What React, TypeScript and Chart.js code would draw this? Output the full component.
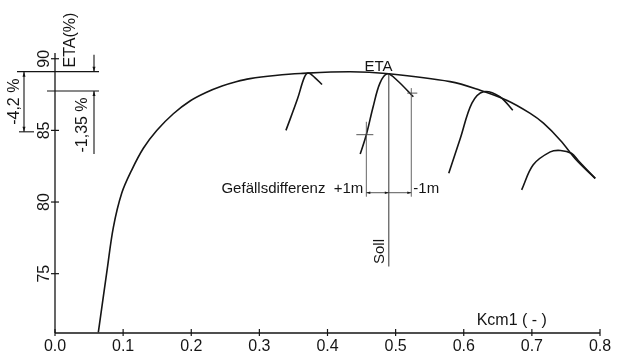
import React, { useEffect, useRef } from "react";
import { Chart, registerables } from "chart.js";
Chart.register(...registerables);

// Envelope (ETA over Kcm1)
const envelopeX = [0.0636, 0.0768, 0.0856, 0.0979, 0.1126, 0.1297, 0.1493, 0.1737, 0.1982, 0.2217, 0.2452, 0.2658, 0.2863, 0.3231, 0.3598, 0.4332, 0.49, 0.58, 0.624, 0.663, 0.697, 0.717, 0.742, 0.766, 0.793];
const envelopeY = [70.9, 75.37, 78.22, 80.61, 82.23, 83.75, 84.99, 86.16, 87.05, 87.64, 88.09, 88.39, 88.61, 88.83, 88.97, 89.09, 88.95, 88.4, 87.8, 87.1, 86.2, 85.5, 84.3, 82.9, 81.65];
// partial curves
const curveAX = [0.339, 0.356, 0.366, 0.372, 0.381, 0.392];
const curveAY = [85.0, 87.2, 88.7, 89.0, 88.7, 88.2];
const curveBX = [0.448, 0.457, 0.467, 0.477, 0.488, 0.502, 0.526];
const curveBY = [83.35, 84.7, 86.65, 88.3, 88.95, 88.5, 87.35];
const curveCX = [0.578, 0.595, 0.612, 0.629, 0.653, 0.672];
const curveCY = [82.0, 84.45, 86.9, 87.7, 87.35, 86.4];
const curveDX = [0.685, 0.702, 0.727, 0.742, 0.758, 0.768, 0.793];
const curveDY = [80.85, 82.6, 83.5, 83.6, 83.4, 82.9, 81.65];

const xTicks = [0, 0.1, 0.2, 0.3, 0.4, 0.5, 0.6, 0.7, 0.8];
const xTickLabels = ["0.0", "0.1", "0.2", "0.3", "0.4", "0.5", "0.6", "0.7", "0.8"];
const yTicks = [75, 80, 85, 90];
const yTickLabels = ["75", "80", "85", "90"];
const xMin = 0, xMax = 0.8, yMin = 70.86, yMax = 90.4;

// annotation values
const etaMax = 89.1;
const eta135 = 87.75;
const eta42 = 84.9;
const sollX = 0.49;
const sollTop = 88.95;
const sollBottom = 75.5;
const plusX = 0.457;
const minusX = 0.523;
const plusMarkY = 84.7;
const minusMarkY = 87.6;
const plusTop = 85.6;
const minusTop = 87.95;
const dimY = 80.65;

const FONT = '"Liberation Sans", Arial, sans-serif';
const INK = "#151515";

function pts(xs: number[], ys: number[]) {
  return xs.map((x, i) => ({ x, y: ys[i] }));
}

const drawPlugin = {
  id: "drawing",
  afterDraw(chart: any) {
    const ctx = chart.ctx as CanvasRenderingContext2D;
    const xs = (v: number) => chart.scales.x.getPixelForValue(v);
    const ys = (v: number) => chart.scales.y.getPixelForValue(v);
    const ax = xs(0);
    const by = ys(yMin);
    ctx.save();
    const line = (x1: number, y1: number, x2: number, y2: number, w = 1.2, c = INK) => {
      ctx.strokeStyle = c;
      ctx.lineWidth = w;
      ctx.beginPath();
      ctx.moveTo(x1, y1);
      ctx.lineTo(x2, y2);
      ctx.stroke();
    };
    const arrow = (x: number, y: number, dx: number, dy: number, size = 5) => {
      const px = -dy, py = dx;
      ctx.fillStyle = INK;
      ctx.beginPath();
      ctx.moveTo(x, y);
      ctx.lineTo(x - dx * size + px * size * 0.3, y - dy * size + py * size * 0.3);
      ctx.lineTo(x - dx * size - px * size * 0.3, y - dy * size - py * size * 0.3);
      ctx.closePath();
      ctx.fill();
    };
    const vtext = (t: string, x: number, y: number) => {
      ctx.save();
      ctx.translate(x, y);
      ctx.rotate(-Math.PI / 2);
      ctx.textAlign = "center";
      ctx.textBaseline = "middle";
      ctx.fillText(t, 0, 0);
      ctx.restore();
    };
    ctx.font = `16px ${FONT}`;

    // axes
    line(ax, by, xs(xMax), by, 1.3);
    line(ax, by, ax, ys(yMax), 1.3);
    ctx.textAlign = "center";
    ctx.textBaseline = "middle";
    xTicks.forEach((t, i) => {
      const x = xs(t);
      line(x, by - 4, x, by + 3, 1.2);
      ctx.fillStyle = INK;
      ctx.fillText(xTickLabels[i], x, by + 14);
    });
    yTicks.forEach((t, i) => {
      const y = ys(t);
      line(ax - 4, y, ax + 4, y, 1.2);
      ctx.fillStyle = INK;
      vtext(yTickLabels[i], ax - 10, y);
    });
    ctx.textAlign = "left";
    ctx.fillStyle = INK;
    ctx.fillText("Kcm1 ( - )", xs(0.619), by - 12);
    vtext("ETA(%)", ax + 16, ys(yMax) - 13);

    // left dimension lines
    const yA = ys(etaMax), yB = ys(eta135), yC = ys(eta42);
    line(ax - 38, yA, ax + 44, yA, 1.1);
    line(ax - 8, yB, ax + 44, yB, 1.1);
    line(ax - 36, yC, ax - 21, yC, 1.1);
    line(ax - 31, yA, ax - 31, yC, 1.1);
    arrow(ax - 31, yA, 0, -1);
    arrow(ax - 31, yC, 0, 1);
    line(ax + 39, yA - 17, ax + 39, yA, 1.1);
    arrow(ax + 39, yA, 0, 1);
    line(ax + 39, yB, ax + 39, yB + 63, 1.1);
    arrow(ax + 39, yB, 0, -1);
    ctx.fillStyle = INK;
    vtext("-4,2 %", ax - 40, (yA + yC) / 2);
    vtext("-1,35 %", ax + 28, yB + 34);

    // Soll line and Gefällsdifferenz
    const sx = xs(sollX), px = xs(plusX), mx = xs(minusX), dy = ys(dimY);
    line(sx, ys(sollTop), sx, ys(sollBottom), 1.0, "#333");
    line(px, ys(plusTop), px, dy + 4, 0.9, "#555");
    line(mx, ys(minusTop), mx, dy + 4, 0.9, "#555");
    line(px - 10, ys(plusMarkY), px + 7, ys(plusMarkY), 0.9, "#444");
    line(mx - 4, ys(minusMarkY), mx + 6, ys(minusMarkY), 0.9, "#444");
    line(px, dy, mx, dy, 0.9, "#444");
    arrow(px, dy, -1, 0, 4);
    arrow(sx, dy, 1, 0, 4);
    arrow(mx, dy, 1, 0, 4);
    ctx.fillStyle = INK;
    ctx.font = `15px ${FONT}`;
    ctx.textAlign = "right";
    ctx.fillText("Gefällsdifferenz  +1m", px - 3, dy - 4);
    ctx.textAlign = "left";
    ctx.fillText("-1m", mx + 2, dy - 4);
    vtext("Soll", sx - 9, ys(sollBottom) - 15);
    ctx.textAlign = "center";
    ctx.fillText("ETA", xs(0.475), ys(89.45));
    ctx.restore();
  },
};

export default function App() {
  const ref = useRef<HTMLCanvasElement | null>(null);
  useEffect(() => {
    if (!ref.current) return;
    const style = (data: any) => ({
      data,
      showLine: true,
      borderColor: INK,
      borderWidth: 1.6,
      pointRadius: 0,
      tension: 0.35,
      fill: false,
    });
    const chart = new Chart(ref.current, {
      type: "scatter",
      data: {
        datasets: [
          style(pts(envelopeX, envelopeY)),
          style(pts(curveAX, curveAY)),
          style(pts(curveBX, curveBY)),
          style(pts(curveCX, curveCY)),
          style(pts(curveDX, curveDY)),
        ],
      },
      options: {
        responsive: false,
        animation: false,
        layout: { padding: { left: 55, right: 19, top: 53, bottom: 21 } },
        plugins: { legend: { display: false }, tooltip: { enabled: false } },
        scales: {
          x: { type: "linear", min: xMin, max: xMax, display: false },
          y: { type: "linear", min: yMin, max: yMax, display: false },
        },
      },
      plugins: [drawPlugin],
    });
    return () => chart.destroy();
  }, []);
  return (
    <div style={{ position: "fixed", left: 0, top: 0, width: 619, height: 354, background: "#fff" }}>
      <canvas ref={ref} width={619} height={354} style={{ width: 619, height: 354 }} />
    </div>
  );
}
